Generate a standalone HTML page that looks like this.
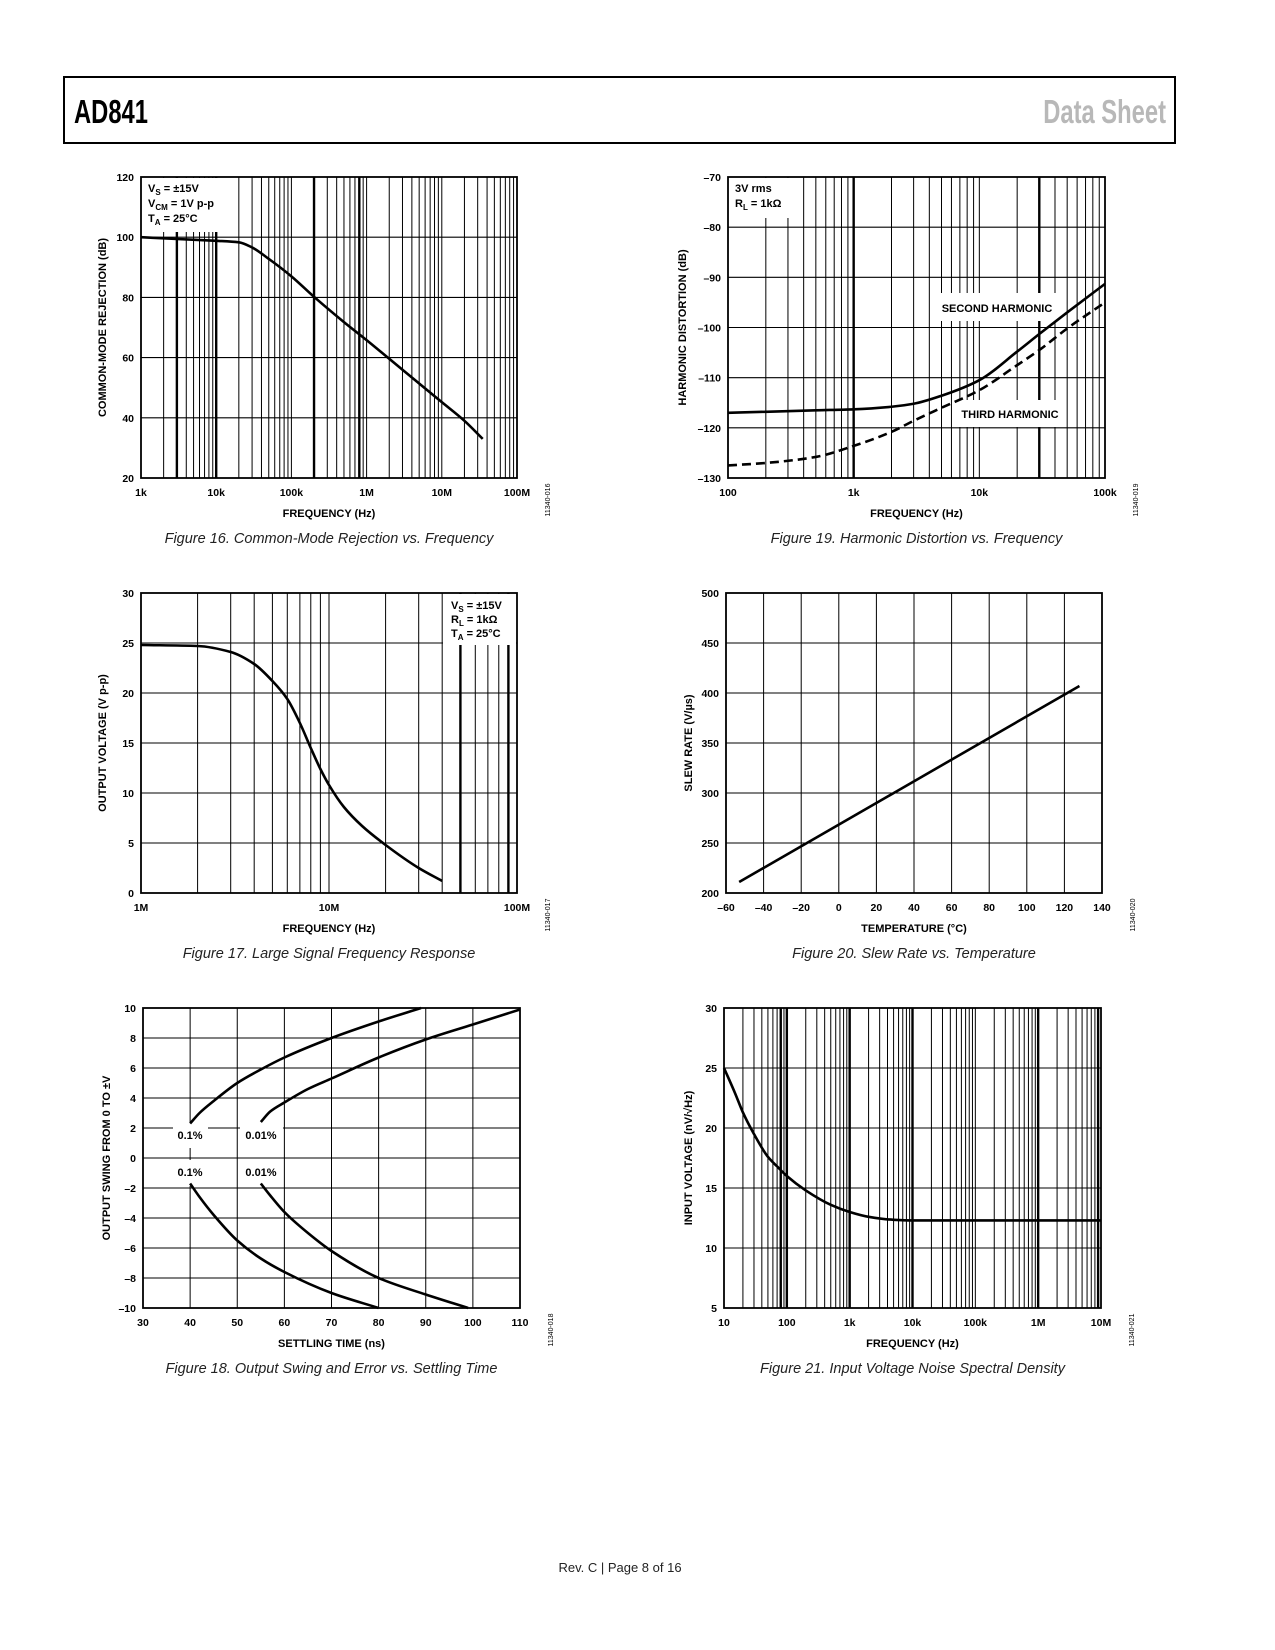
<!DOCTYPE html>
<html><head><meta charset="utf-8"><title>AD841 Data Sheet Page 8</title>
<style>
html,body{margin:0;padding:0;background:#fff;}
svg{display:block;font-family:"Liberation Sans",Arial,sans-serif;}
.tk{font-size:10.5px;font-weight:bold;fill:#000;}
.ti{font-size:11px;font-weight:bold;fill:#000;}
.cap{font-size:14.5px;font-style:italic;fill:#222;}
.id{font-size:7px;fill:#000;}
</style></head>
<body>
<svg id="page" width="1275" height="1650" viewBox="0 0 1275 1650" xmlns="http://www.w3.org/2000/svg">
<rect x="64" y="77" width="1111" height="66" fill="none" stroke="#000" stroke-width="2"/>
<text x="0" y="0" transform="translate(74 123) scale(0.72 1)" font-weight="bold" font-size="33" fill="#000">AD841</text>
<text x="0" y="0" transform="translate(1166 123) scale(0.72 1)" text-anchor="end" font-weight="bold" font-size="33" fill="#b8b8b8">Data Sheet</text>
<text x="620" y="1572" text-anchor="middle" font-size="13" fill="#222">Rev. C | Page 8 of 16</text>
</svg>
<script>
// ---------- Figure 16 data ----------
const f16Freq = [1e3, 3e3, 1e4, 2e4, 3e4, 5e4, 1e5, 2e5, 5e5, 1e6, 2e6, 5e6, 1e7, 2e7, 3.5e7];
const f16Cmr  = [100, 99.4, 98.8, 98.3, 96.6, 92.8, 87, 80.2, 71.8, 65.8, 59.6, 51.4, 45.2, 39, 33];
const f16XTicks = [1e3, 1e4, 1e5, 1e6, 1e7, 1e8];
const f16XLabels = ["1k","10k","100k","1M","10M","100M"];
const f16YTicks = [20, 40, 60, 80, 100, 120];
// ---------- Figure 19 data ----------
const f19Freq = [100, 200, 500, 1e3, 2e3, 3e3, 5e3, 1e4, 2e4, 3e4, 5e4, 1e5];
const f19Second = [-117, -116.8, -116.5, -116.3, -115.8, -115.2, -113.6, -110.5, -104.8, -101.3, -97, -91.3];
const f19Third  = [-127.5, -127, -125.8, -123.6, -120.8, -118.6, -116, -112.5, -107.5, -104.5, -100.2, -95];
const f19XTicks = [100, 1e3, 1e4, 1e5];
const f19XLabels = ["100","1k","10k","100k"];
const f19YTicks = [-130, -120, -110, -100, -90, -80, -70];
// ---------- Figure 17 data ----------
const f17Freq = [1e6, 2e6, 3e6, 4e6, 5e6, 6e6, 7e6, 8e6, 9e6, 1e7, 1.2e7, 1.5e7, 2e7, 3e7, 4e7];
const f17Vout = [24.8, 24.7, 24.1, 22.9, 21.2, 19.4, 17, 14.5, 12.4, 10.8, 8.6, 6.7, 4.8, 2.5, 1.2];
const f17XTicks = [1e6, 1e7, 1e8];
const f17XLabels = ["1M","10M","100M"];
const f17YTicks = [0, 5, 10, 15, 20, 25, 30];
// ---------- Figure 20 data ----------
const f20Temp = [-53, 128];
const f20Slew = [211, 407];
const f20XTicks = [-60, -40, -20, 0, 20, 40, 60, 80, 100, 120, 140];
const f20YTicks = [200, 250, 300, 350, 400, 450, 500];
// ---------- Figure 18 data ----------
const f18TopA_t = [40, 42, 45, 50, 55, 60, 70, 80, 89];
const f18TopA_v = [2.3, 3.0, 3.8, 5.0, 5.9, 6.7, 8.0, 9.1, 10];
const f18TopB_t = [55, 57, 60, 65, 70, 80, 90, 100, 110];
const f18TopB_v = [2.4, 3.1, 3.7, 4.6, 5.3, 6.7, 7.9, 8.9, 9.9];
const f18BotA_t = [40, 42, 45, 50, 55, 60, 70, 80];
const f18BotA_v = [-1.7, -2.6, -3.8, -5.5, -6.7, -7.6, -9.0, -10];
const f18BotB_t = [55, 57, 60, 65, 70, 80, 90, 99];
const f18BotB_v = [-1.7, -2.5, -3.6, -5.0, -6.2, -8.0, -9.1, -10];
const f18XTicks = [30, 40, 50, 60, 70, 80, 90, 100, 110];
const f18YTicks = [-10, -8, -6, -4, -2, 0, 2, 4, 6, 8, 10];
// ---------- Figure 21 data ----------
const f21Freq = [10, 15, 20, 30, 50, 70, 100, 200, 500, 1e3, 2e3, 5e3, 1e4, 1e5, 1e6, 1e7];
const f21Noise = [25, 22.9, 21.3, 19.5, 17.6, 16.8, 16, 14.8, 13.6, 13, 12.6, 12.35, 12.3, 12.3, 12.3, 12.3];
const f21XTicks = [10, 100, 1e3, 1e4, 1e5, 1e6, 1e7];
const f21XLabels = ["10","100","1k","10k","100k","1M","10M"];
const f21YTicks = [5, 10, 15, 20, 25, 30];

const NS = "http://www.w3.org/2000/svg";
const page = document.getElementById("page");
function mk(tag, attrs, parent){const e=document.createElementNS(NS,tag);for(const k in attrs)e.setAttribute(k,attrs[k]);(parent||page).appendChild(e);return e;}

function makeAxes(c){
  const L=Math.log10;
  c.sx = c.log ? v => c.x0 + (L(v)-L(c.xmin))/(L(c.xmax)-L(c.xmin))*(c.x1-c.x0)
               : v => c.x0 + (v-c.xmin)/(c.xmax-c.xmin)*(c.x1-c.x0);
  c.sy = v => c.y1 - (v-c.ymin)/(c.ymax-c.ymin)*(c.y1-c.y0);
  return c;
}
function logGrid(c){
  const out=[];
  for(let d=Math.log10(c.xmin); d<Math.log10(c.xmax); d++){
    for(let m=1;m<=9;m++){ const v=m*Math.pow(10,d); if(v>c.xmin) out.push(v);} }
  return out;
}
function drawChart(c, key){
  const g = mk("g",{});
  
  
  const grid = mk("g",{stroke:"#000",fill:"none"},g);
  
  
  const vlines = c.log ? logGrid(c) : c.xTicks.slice(1,-1);
  vlines.forEach(v=>{
    const x=c.sx(v);
    const thick=(c.thick||[]).some(t=>Math.abs(t-v)/v<1e-6);
    mk("line",{x1:x,x2:x,y1:c.y0,y2:c.y1,"stroke-width":thick?2.4:1},grid);
  });
  c.yTicks.slice(1,-1).forEach(v=>{const y=c.sy(v);mk("line",{x1:c.x0,x2:c.x1,y1:y,y2:y,"stroke-width":1.1},grid);});
  (c.boxes||[]).forEach(b=>{mk("rect",{x:b[0],y:b[1],width:b[2]-b[0],height:b[3]-b[1],fill:"#fff",stroke:"none"},g);});
  const fr=mk("rect",{x:c.x0,y:c.y0,width:c.x1-c.x0,height:c.y1-c.y0,fill:"none",stroke:"#000","stroke-width":1.8},g);
  
  
  if(c.boxes){ c.boxes.forEach(b=>{ if(b[4]) mk("rect",{x:b[0],y:b[1],width:b[2]-b[0],height:b[3]-b[1],fill:"#fff",stroke:"none"},g);}); }
  c.xTicks.forEach((v,i)=>{
    const t=mk("text",{x:c.sx(v),y:c.y1+18,"text-anchor":"middle",class:"tk"},g);
    t.textContent = c.xLabels ? c.xLabels[i] : String(v).replace("-","\u2013");
    
    
  });
  c.yTicks.forEach(v=>{
    const t=mk("text",{x:c.x0-7,y:c.sy(v)+4,"text-anchor":"end",class:"tk"},g);
    t.textContent = String(v).replace("-","\u2013");
    
    
  });
  const xt=mk("text",{x:(c.x0+c.x1)/2,y:c.y1+39,"text-anchor":"middle",class:"ti"},g);
  xt.innerHTML=c.xTitle;
  
  
  const yc=(c.y0+c.y1)/2;
  const yt=mk("text",{x:c.yTitleX,y:yc,"text-anchor":"middle",class:"ti",transform:`rotate(-90 ${c.yTitleX} ${yc})`},g);
  yt.innerHTML=c.yTitle;
  
  
  const cap=mk("text",{x:(c.x0+c.x1)/2,y:c.y1+65,"text-anchor":"middle",class:"cap"},g);
  cap.textContent=c.caption;
  
  
  const idx=c.x1+33, idy=c.y1+22;
  const id=mk("text",{x:idx,y:idy,"text-anchor":"middle",class:"id",transform:`rotate(-90 ${idx} ${idy})`},g);
  id.textContent=c.code;
  
  
  c.g=g;
  return c;
}
function series(c, xs, ys, name, dash){
  const p=xs.map((x,i)=>[c.sx(x),c.sy(ys[i])]);
  const n=p.length;
  let d="M"+p[0][0]+","+p[0][1];
  if(n===2){ d+=" L"+p[1][0]+","+p[1][1]; }
  else {
    const h=[],s=[];
    for(let i=0;i<n-1;i++){h.push(p[i+1][0]-p[i][0]);s.push((p[i+1][1]-p[i][1])/h[i]);}
    const m=new Array(n);
    m[0]=s[0]; m[n-1]=s[n-2];
    for(let i=1;i<n-1;i++){
      if(s[i-1]*s[i]<=0) m[i]=0;
      else { const w1=2*h[i]+h[i-1], w2=h[i]+2*h[i-1]; m[i]=(w1+w2)/(w1/s[i-1]+w2/s[i]); }
    }
    for(let i=0;i<n-1;i++){
      const c1=[p[i][0]+h[i]/3,p[i][1]+m[i]*h[i]/3];
      const c2=[p[i+1][0]-h[i]/3,p[i+1][1]-m[i+1]*h[i]/3];
      d+=` C${c1[0]},${c1[1]} ${c2[0]},${c2[1]} ${p[i+1][0]},${p[i+1][1]}`;
    }
  }
  const path=mk("path",{d:d,fill:"none",stroke:"#000","stroke-width":2.6,"stroke-linecap":"butt"},c.g);
  if(dash) path.setAttribute("stroke-dasharray","9,5");
  
  
}
function note(c, x, y, html, anchor, name){
  const t=mk("text",{x:x,y:y,"text-anchor":anchor||"start",class:"ti"},c.g);
  t.innerHTML=html;
  
  
}
const sub = s => `<tspan dy="3" font-size="8">${s}</tspan><tspan dy="-3">`;

// Figure 16
const c16 = drawChart(makeAxes({x0:141,x1:517,y0:177,y1:478,log:true,xmin:1e3,xmax:1e8,ymin:20,ymax:120,
  xTicks:f16XTicks,xLabels:f16XLabels,yTicks:f16YTicks,thick:[3e3,1e4,2e5,8e5],
  boxes:[[142,178,237,232]],xTitle:"FREQUENCY (Hz)",yTitle:"COMMON-MODE REJECTION (dB)",yTitleX:106,
  caption:"Figure 16. Common-Mode Rejection vs. Frequency",code:"11340-016"}),"cmr");
note(c16,148,192,"V"+sub("S")+" = ±15V</tspan>","start","annotation-vs");
note(c16,148,207,"V"+sub("CM")+" = 1V p-p</tspan>","start","annotation-vcm");
note(c16,148,222,"T"+sub("A")+" = 25°C</tspan>","start","annotation-ta");
series(c16,f16Freq,f16Cmr,"cmr-curve");

// Figure 19
const c19 = drawChart(makeAxes({x0:728,x1:1105,y0:177,y1:478,log:true,xmin:100,xmax:1e5,ymin:-130,ymax:-70,
  xTicks:f19XTicks,xLabels:f19XLabels,yTicks:f19YTicks,thick:[1e3,3e4],
  boxes:[[729,178,792,218],[933,293,1062,321],[953,400,1066,427]],xTitle:"FREQUENCY (Hz)",yTitle:"HARMONIC DISTORTION (dB)",yTitleX:686,
  caption:"Figure 19. Harmonic Distortion vs. Frequency",code:"11340-019"}),"hd");
note(c19,735,192,"3V rms","start","annotation-level");
note(c19,735,207,"R"+sub("L")+" = 1kΩ</tspan>","start","annotation-rl");
note(c19,997,312,"SECOND HARMONIC","middle","second-harmonic-label");
note(c19,1010,418,"THIRD HARMONIC","middle","third-harmonic-label");
series(c19,f19Freq,f19Second,"second-harmonic-curve");
series(c19,f19Freq,f19Third,"third-harmonic-curve",true);

// Figure 17
const c17 = drawChart(makeAxes({x0:141,x1:517,y0:593,y1:893,log:true,xmin:1e6,xmax:1e8,ymin:0,ymax:30,
  xTicks:f17XTicks,xLabels:f17XLabels,yTicks:f17YTicks,thick:[5e7,9e7],
  boxes:[[443,594,516,645]],xTitle:"FREQUENCY (Hz)",yTitle:"OUTPUT VOLTAGE (V p-p)",yTitleX:106,
  caption:"Figure 17. Large Signal Frequency Response",code:"11340-017"}),"lsfr");
note(c17,451,609,"V"+sub("S")+" = ±15V</tspan>","start","annotation-vs");
note(c17,451,623,"R"+sub("L")+" = 1kΩ</tspan>","start","annotation-rl");
note(c17,451,637,"T"+sub("A")+" = 25°C</tspan>","start","annotation-ta");
series(c17,f17Freq,f17Vout,"output-voltage-curve");

// Figure 20
const c20 = drawChart(makeAxes({x0:726,x1:1102,y0:593,y1:893,log:false,xmin:-60,xmax:140,ymin:200,ymax:500,
  xTicks:f20XTicks,yTicks:f20YTicks,xTitle:"TEMPERATURE (°C)",yTitle:"SLEW RATE (V/µs)",yTitleX:692,
  caption:"Figure 20. Slew Rate vs. Temperature",code:"11340-020"}),"slew");
series(c20,f20Temp,f20Slew,"slew-rate-line");

// Figure 18
const c18 = drawChart(makeAxes({x0:143,x1:520,y0:1008,y1:1308,log:false,xmin:30,xmax:110,ymin:-10,ymax:10,
  xTicks:f18XTicks,yTicks:f18YTicks,
  boxes:[[173,1122,208,1148,1],[240,1122,283,1148,1],[173,1160,208,1186,1],[240,1160,283,1186,1]],
  xTitle:"SETTLING TIME (ns)",yTitle:"OUTPUT SWING FROM 0 TO ±V",yTitleX:110,
  caption:"Figure 18. Output Swing and Error vs. Settling Time",code:"11340-018"}),"settle");
note(c18,190,1139,"0.1%","middle","label-0.1pct-top");
note(c18,261,1139,"0.01%","middle","label-0.01pct-top");
note(c18,190,1176,"0.1%","middle","label-0.1pct-bottom");
note(c18,261,1176,"0.01%","middle","label-0.01pct-bottom");
series(c18,f18TopA_t,f18TopA_v,"curve-0.1pct-positive");
series(c18,f18TopB_t,f18TopB_v,"curve-0.01pct-positive");
series(c18,f18BotA_t,f18BotA_v,"curve-0.1pct-negative");
series(c18,f18BotB_t,f18BotB_v,"curve-0.01pct-negative");

// Figure 21
const c21 = drawChart(makeAxes({x0:724,x1:1101,y0:1008,y1:1308,log:true,xmin:10,xmax:1e7,ymin:5,ymax:30,
  xTicks:f21XTicks,xLabels:f21XLabels,yTicks:f21YTicks,thick:[80,100,1e3,1e4,1e6,9e6],
  xTitle:"FREQUENCY (Hz)",yTitle:"INPUT VOLTAGE (nV/√Hz)",yTitleX:692,
  caption:"Figure 21. Input Voltage Noise Spectral Density",code:"11340-021"}),"noise");
series(c21,f21Freq,f21Noise,"noise-curve");
</script>
</body></html>
